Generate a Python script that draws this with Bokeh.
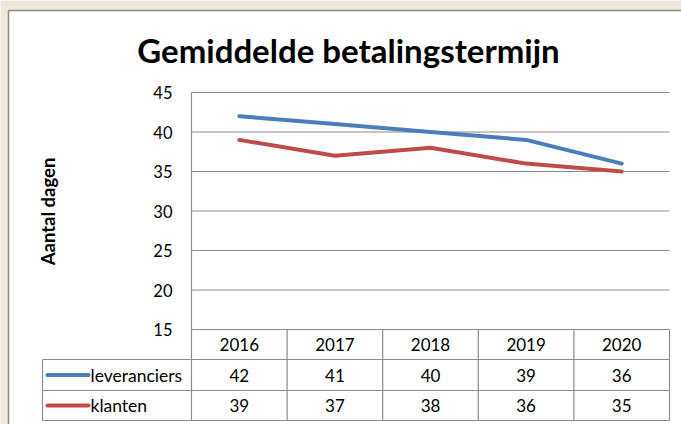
import math
from bokeh.plotting import figure
from bokeh.models import Range1d
from bokeh.core.properties import value
from bokeh.embed import file_html
from bokeh.resources import INLINE

# ---- data ----
title_text = "Gemiddelde betalingstermijn"
y_axis_title = "Aantal dagen"
years = ["2016", "2017", "2018", "2019", "2020"]
series_names = ["leveranciers", "klanten"]
leveranciers = [42, 41, 40, 39, 36]
klanten = [39, 37, 38, 36, 35]
y_ticks = [15, 20, 25, 30, 35, 40, 45]
y_tick_labels = ["15", "20", "25", "30", "35", "40", "45"]

# ---- layout (pixels) ----
W, H = 681, 424
plot_left, plot_right = 191, 669
plot_top, plot_bottom = 92, 329
y_min, y_max = 15, 45
col_w = (plot_right - plot_left) / len(years)
ppu = (plot_bottom - plot_top) / (y_max - y_min)

x_start = (0 - plot_left) / col_w - 0.5
x_end = (W - plot_left) / col_w - 0.5
y_end = y_max + plot_top / ppu
y_start = y_min - (H - plot_bottom) / ppu

BG = "#efe6dc"
GRID = "#8a8a8a"
BLUE = "#4a7ebb"
RED = "#be4b48"
FONT = "Lato"
TXT = "17px"

p = figure(width=W, height=H, x_range=Range1d(x_start, x_end), y_range=Range1d(y_start, y_end),
           output_backend="svg", toolbar_location=None, min_border=0,
           x_axis_location=None, y_axis_location=None)
p.extra_x_ranges = {"px": Range1d(0, W)}
p.extra_y_ranges = {"px": Range1d(H, 0)}
p.grid.visible = False
p.outline_line_color = None
p.background_fill_color = BG
p.border_fill_color = BG

# chart box (white area with top and left border only visible)
p.quad(left=[8], right=[W + 60], top=[10], bottom=[H + 60], fill_color="white", line_color=None,
       x_range_name="px", y_range_name="px")
p.segment(x0=[8, 8], x1=[W + 60, 8], y0=[10, 10], y1=[10, H + 60], line_color="#8c8c8c",
          line_width=1.5, x_range_name="px", y_range_name="px")

# title
p.text(x=[348], y=[49], text=[title_text], x_range_name="px", y_range_name="px",
       text_font=value(FONT), text_font_style="bold", text_font_size="33px",
       text_align="center", text_baseline="middle", text_color="black")

# axis title
p.text(x=[47], y=[211], text=[y_axis_title], x_range_name="px", y_range_name="px", angle=math.pi / 2,
       text_font=value(FONT), text_font_style="bold", text_font_size="18.5px",
       text_align="center", text_baseline="middle", text_color="black")

# gridlines
x_lo = -0.5
x_hi = len(years) - 0.5
p.segment(x0=[x_lo] * len(y_ticks), x1=[x_hi] * len(y_ticks), y0=y_ticks, y1=y_ticks,
          line_color=GRID, line_width=1.2)
# y axis line
p.segment(x0=[x_lo], x1=[x_lo], y0=[y_max], y1=[y_min], line_color=GRID, line_width=1.2)

# tick labels
p.text(x=[x_lo] * len(y_ticks), y=y_ticks, text=y_tick_labels, x_offset=-19,
       text_font=value(FONT), text_font_size="16.5px", text_align="right", text_baseline="middle",
       text_color="black")

# series lines
xs = list(range(len(years)))
p.line(xs, leveranciers, line_color=BLUE, line_width=4, line_cap="round", line_join="round")
p.line(xs, klanten, line_color=RED, line_width=4, line_cap="round", line_join="round")

# ---- data table ----
row_tops = [329, 359, 390, 420]
row_mid = [(row_tops[i] + row_tops[i + 1]) / 2 for i in range(3)]
legend_left = 42
TBL = "#8c8c8c"
# horizontal table lines
p.segment(x0=[legend_left] * 3, x1=[plot_right] * 3, y0=row_tops[1:], y1=row_tops[1:],
          line_color=TBL, line_width=1.2, x_range_name="px", y_range_name="px")
# vertical lines
vx = [plot_left + col_w * i for i in range(len(years) + 1)]
p.segment(x0=vx, x1=vx, y0=[row_tops[0]] * len(vx), y1=[row_tops[-1]] * len(vx),
          line_color=TBL, line_width=1.2, x_range_name="px", y_range_name="px")
p.segment(x0=[legend_left], x1=[legend_left], y0=[row_tops[1]], y1=[row_tops[-1]],
          line_color=TBL, line_width=1.2, x_range_name="px", y_range_name="px")

cx = [plot_left + col_w * (i + 0.5) for i in range(len(years))]
p.text(x=cx, y=[row_mid[0]] * len(years), text=years, x_range_name="px", y_range_name="px",
       text_font=value(FONT), text_font_size=TXT, text_align="center", text_baseline="middle")
p.text(x=cx, y=[row_mid[1]] * len(years), text=[str(v) for v in leveranciers], x_range_name="px",
       y_range_name="px", text_font=value(FONT), text_font_size=TXT, text_align="center",
       text_baseline="middle")
p.text(x=cx, y=[row_mid[2]] * len(years), text=[str(v) for v in klanten], x_range_name="px",
       y_range_name="px", text_font=value(FONT), text_font_size=TXT, text_align="center",
       text_baseline="middle")

# legend keys
for name, col, ym in zip(series_names, [BLUE, RED], row_mid[1:]):
    p.segment(x0=[47], x1=[88], y0=[ym], y1=[ym], line_color=col, line_width=4, line_cap="round",
              x_range_name="px", y_range_name="px")
    p.text(x=[90], y=[ym], text=[name], x_range_name="px", y_range_name="px",
           text_font=value(FONT), text_font_size="17.5px", text_align="left", text_baseline="middle")

open("out.html", "w").write(file_html(p, INLINE))
